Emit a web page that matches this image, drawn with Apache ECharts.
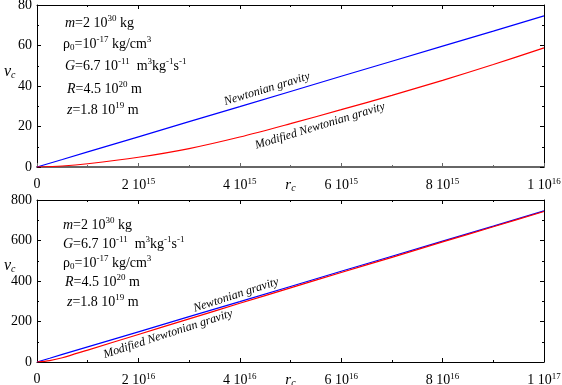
<!DOCTYPE html>
<html>
<head>
<meta charset="utf-8">
<script src="https://cdn.jsdelivr.net/npm/echarts@6/dist/echarts.min.js"></script>
<style>
  html, body { margin: 0; padding: 0; background: #fff; }
  #chart { width: 562px; height: 385px; }
</style>
</head>
<body>
<div id="chart"></div>
<script>
  // top panel: r_c up to 1e16
  let rTop = [0, 0.5e15, 1e15, 2e15, 3e15, 4e15, 5e15, 6e15, 7e15, 8e15, 9e15, 1e16];
  let newtonTop = [0, 3.7, 7.5, 14.9, 22.4, 29.8, 37.3, 44.8, 52.2, 59.7, 67.1, 74.6];
  let modifiedTop = [0, 0.5, 1.6, 4.8, 9.1, 14.8, 21.4, 28.3, 35.4, 42.8, 50.6, 58.8];

  // bottom panel: r_c up to 1e17
  let rBot = [0, 0.25e16, 0.5e16, 1e16, 2e16, 3e16, 4e16, 5e16, 6e16, 7e16, 8e16, 9e16, 1e17];
  let newtonBot = [0, 18.6, 37.3, 74.6, 149, 224, 298, 373, 448, 522, 597, 671, 746];
  let modifiedBot = [0, 7, 21, 59, 136, 213, 290, 366, 442, 517, 593, 668, 743];

  const FONT = "'Liberation Serif', 'Times New Roman', serif";

  function pairs(xs, ys) {
    return xs.map(function(x, i) { return [x, ys[i]]; });
  }

  function sciLabel(v) {
    if (v === 0) return '0';
    let e = Math.floor(Math.log10(v) + 1e-9);
    let m = Math.round(v / Math.pow(10, e));
    return '{b|' + m + ' 10}{s|' + e + '}';
  }

  let tickRich = {
    b: { fontFamily: FONT, fontSize: 14, color: '#000' },
    s: { fontFamily: FONT, fontSize: 9, color: '#000', padding: [0, 0, 8, 0] }
  };

  function xAxisMain(gi, max, interval, lineColor, lineWidth) {
    return {
      type: 'value', gridIndex: gi, min: 0, max: max, interval: interval,
      name: '{i|r}{u|c}', nameLocation: 'middle', nameGap: 10, nameMoveOverlap: false,
      nameTextStyle: {
        rich: {
          i: { fontFamily: FONT, fontSize: 15, fontStyle: 'italic', color: '#000' },
          u: { fontFamily: FONT, fontSize: 10, fontStyle: 'italic', color: '#000', padding: [6, 0, 0, 0] }
        }
      },
      axisLine: { onZero: false, lineStyle: { color: lineColor, width: lineWidth } },
      axisTick: { inside: true, length: 4, lineStyle: { color: lineColor } },
      minorTick: { show: true, splitNumber: 2, length: 2, lineStyle: { color: lineColor } },
      splitLine: { show: false },
      axisLabel: { margin: 10, formatter: sciLabel, rich: tickRich, fontFamily: FONT, fontSize: 14, color: '#000' }
    };
  }

  function xAxisMirror(gi, max, interval) {
    return {
      type: 'value', gridIndex: gi, position: 'top', min: 0, max: max, interval: interval,
      axisLine: { onZero: false, lineStyle: { color: '#000', width: 1 } },
      axisTick: { inside: true, length: 4, lineStyle: { color: '#000' } },
      minorTick: { show: true, splitNumber: 2, length: 2, lineStyle: { color: '#000' } },
      splitLine: { show: false },
      axisLabel: { show: false }
    };
  }

  function yAxis(gi, max, interval, pos, labels) {
    return {
      type: 'value', gridIndex: gi, position: pos, min: 0, max: max, interval: interval,
      axisLine: { onZero: false, lineStyle: { color: '#000', width: 1 } },
      axisTick: { inside: true, length: 4, lineStyle: { color: '#000' } },
      minorTick: { show: true, splitNumber: 2, length: 2, lineStyle: { color: '#000' } },
      splitLine: { show: false },
      axisLabel: { show: labels, margin: 5, fontFamily: FONT, fontSize: 14, color: '#000' }
    };
  }

  let annRich = {
    i: { fontFamily: FONT, fontSize: 14, fontStyle: 'italic', fill: '#000' },
    t: { fontFamily: FONT, fontSize: 14, fill: '#000' },
    s: { fontFamily: FONT, fontSize: 9, fill: '#000', padding: [0, 0, 8, 0] },
    u: { fontFamily: FONT, fontSize: 9, fill: '#000', padding: [7, 0, 0, 0] },
    ui: { fontFamily: FONT, fontSize: 10, fontStyle: 'italic', fill: '#000', padding: [7, 0, 0, 0] },
    vi: { fontFamily: FONT, fontSize: 16, fontStyle: 'italic', fill: '#000' },
    c: { fontFamily: FONT, fontSize: 12, fontStyle: 'italic', fill: '#000' }
  };

  function note(x, y, text) {
    return {
      type: 'text', x: x, y: y, z: 10,
      style: { text: text, rich: annRich, align: 'left', verticalAlign: 'middle' }
    };
  }

  function curveLabel(x, y, deg, text) {
    return {
      type: 'text', x: x, y: y, rotation: deg * Math.PI / 180, z: 10,
      style: { text: '{c|' + text + '}', rich: annRich, align: 'center', verticalAlign: 'middle' }
    };
  }

  let lines = {
    m: '{i|m}{t|=2 10}{s|30}{t| kg}',
    rho: '{t|\u03c1}{u|0}{t|=10}{s|-17}{t| kg/cm}{s|3}',
    G: '{i|G}{t|=6.7 10}{s|-11}{t|  m}{s|3}{t|kg}{s|-1}{t|s}{s|-1}',
    R: '{i|R}{t|=4.5 10}{s|20}{t| m}',
    z: '{i|z}{t|=1.8 10}{s|19}{t| m}'
  };

  let chart = echarts.init(document.getElementById('chart'), null, { renderer: 'canvas' });

  let option = {
    animation: false,
    backgroundColor: '#fff',
    grid: [
      { left: 37, right: 18, top: 5, height: 162, outerBoundsMode: 'none', containLabel: false },
      { left: 37, right: 18, top: 200, height: 162, outerBoundsMode: 'none', containLabel: false }
    ],
    xAxis: [
      xAxisMain(0, 1e16, 2e15, '#666', 2),
      xAxisMirror(0, 1e16, 2e15),
      xAxisMain(1, 1e17, 2e16, '#000', 1),
      xAxisMirror(1, 1e17, 2e16)
    ],
    yAxis: [
      yAxis(0, 80, 20, 'left', true),
      yAxis(0, 80, 20, 'right', false),
      yAxis(1, 800, 200, 'left', true),
      yAxis(1, 800, 200, 'right', false)
    ],
    series: [
      { type: 'line', xAxisIndex: 0, yAxisIndex: 0, showSymbol: false, data: pairs(rTop, newtonTop),
        lineStyle: { color: '#0000ff', width: 1.2 } },
      { type: 'line', xAxisIndex: 0, yAxisIndex: 0, showSymbol: false, smooth: 0.3, data: pairs(rTop, modifiedTop),
        lineStyle: { color: '#ff0000', width: 1.2 } },
      { type: 'line', xAxisIndex: 2, yAxisIndex: 2, showSymbol: false, data: pairs(rBot, newtonBot),
        lineStyle: { color: '#0000ff', width: 1.2 } },
      { type: 'line', xAxisIndex: 2, yAxisIndex: 2, showSymbol: false, smooth: 0.3, data: pairs(rBot, modifiedBot),
        lineStyle: { color: '#ff0000', width: 1.2 } }
    ],
    graphic: [
      note(4, 72, '{vi|v}{ui|c}'),
      note(4, 266, '{vi|v}{ui|c}'),
      // top panel parameters
      note(65, 23, lines.m),
      note(63, 44, lines.rho),
      note(65, 66, lines.G),
      note(67, 89, lines.R),
      note(67, 110, lines.z),
      // bottom panel parameters
      note(63, 225, lines.m),
      note(63, 244, lines.G),
      note(63, 263, lines.rho),
      note(65, 282, lines.R),
      note(67, 302, lines.z),
      curveLabel(267, 89, 17, 'Newtonian gravity'),
      curveLabel(320, 126, 17, 'Modified Newtonian gravity'),
      curveLabel(236, 295, 18, 'Newtonian gravity'),
      curveLabel(168, 334, 18, 'Modified Newtonian gravity')
    ]
  };

  chart.setOption(option);
</script>
</body>
</html>
